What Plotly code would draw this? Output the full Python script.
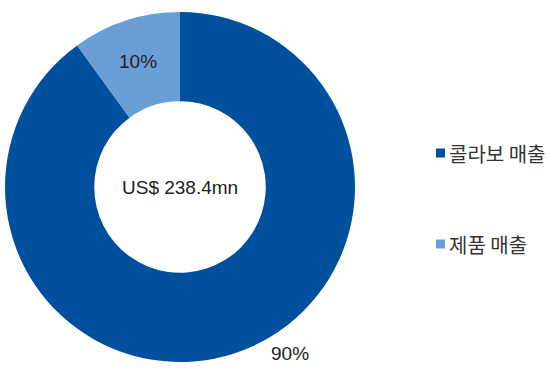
import plotly.graph_objects as go

categories = ["콜라보 매출", "제품 매출"]
shares = [90, 10]
colors = ["#00509E", "#6A9ED6"]
center_label = "US$ 238.4mn"

W, H = 550, 369
CX, CY, R = 180, 187, 175

fig = go.Figure()
fig.add_trace(go.Pie(
    labels=categories, values=shares, hole=0.49, sort=False,
    direction="clockwise", rotation=0,
    marker=dict(colors=colors, line=dict(width=0)),
    textinfo="none", showlegend=False,
    domain=dict(x=[(CX - R) / W, (CX + R) / W],
                y=[(H - CY - R) / H, (H - CY + R) / H]),
))

font_num = dict(family="Liberation Sans, Arial, sans-serif", size=19, color="#222222")
font_kr = dict(family="Noto Sans CJK KR, sans-serif", size=20, color="#333333")

total = sum(shares)
label_pos = [(290, 353), (138, 61)]
annotations = [dict(x=CX / W, y=(H - CY) / H, xref="paper", yref="paper",
                    xanchor="center", yanchor="middle",
                    text=center_label, showarrow=False, font=font_num)]
for v, (px, py) in zip(shares, label_pos):
    annotations.append(dict(x=px / W, y=(H - py) / H, xref="paper", yref="paper",
                            xanchor="center", yanchor="middle",
                            text=f"{round(100 * v / total)}%", showarrow=False, font=font_num))

legend_y = [153, 244]
shapes = []
for name, col, ly in zip(categories, colors, legend_y):
    shapes.append(dict(type="rect", xref="paper", yref="paper",
                       x0=436 / W, x1=445 / W, y0=(H - ly - 4.5) / H, y1=(H - ly + 4.5) / H,
                       fillcolor=col, line=dict(width=0)))
    annotations.append(dict(x=447 / W, y=(H - ly) / H, xref="paper", yref="paper",
                            xanchor="left", yanchor="middle",
                            text=name, showarrow=False, font=font_kr))

fig.update_layout(width=W, height=H, margin=dict(l=0, r=0, t=0, b=0),
                  paper_bgcolor="white", plot_bgcolor="white",
                  annotations=annotations, shapes=shapes)
fig.write_html("out.html")
